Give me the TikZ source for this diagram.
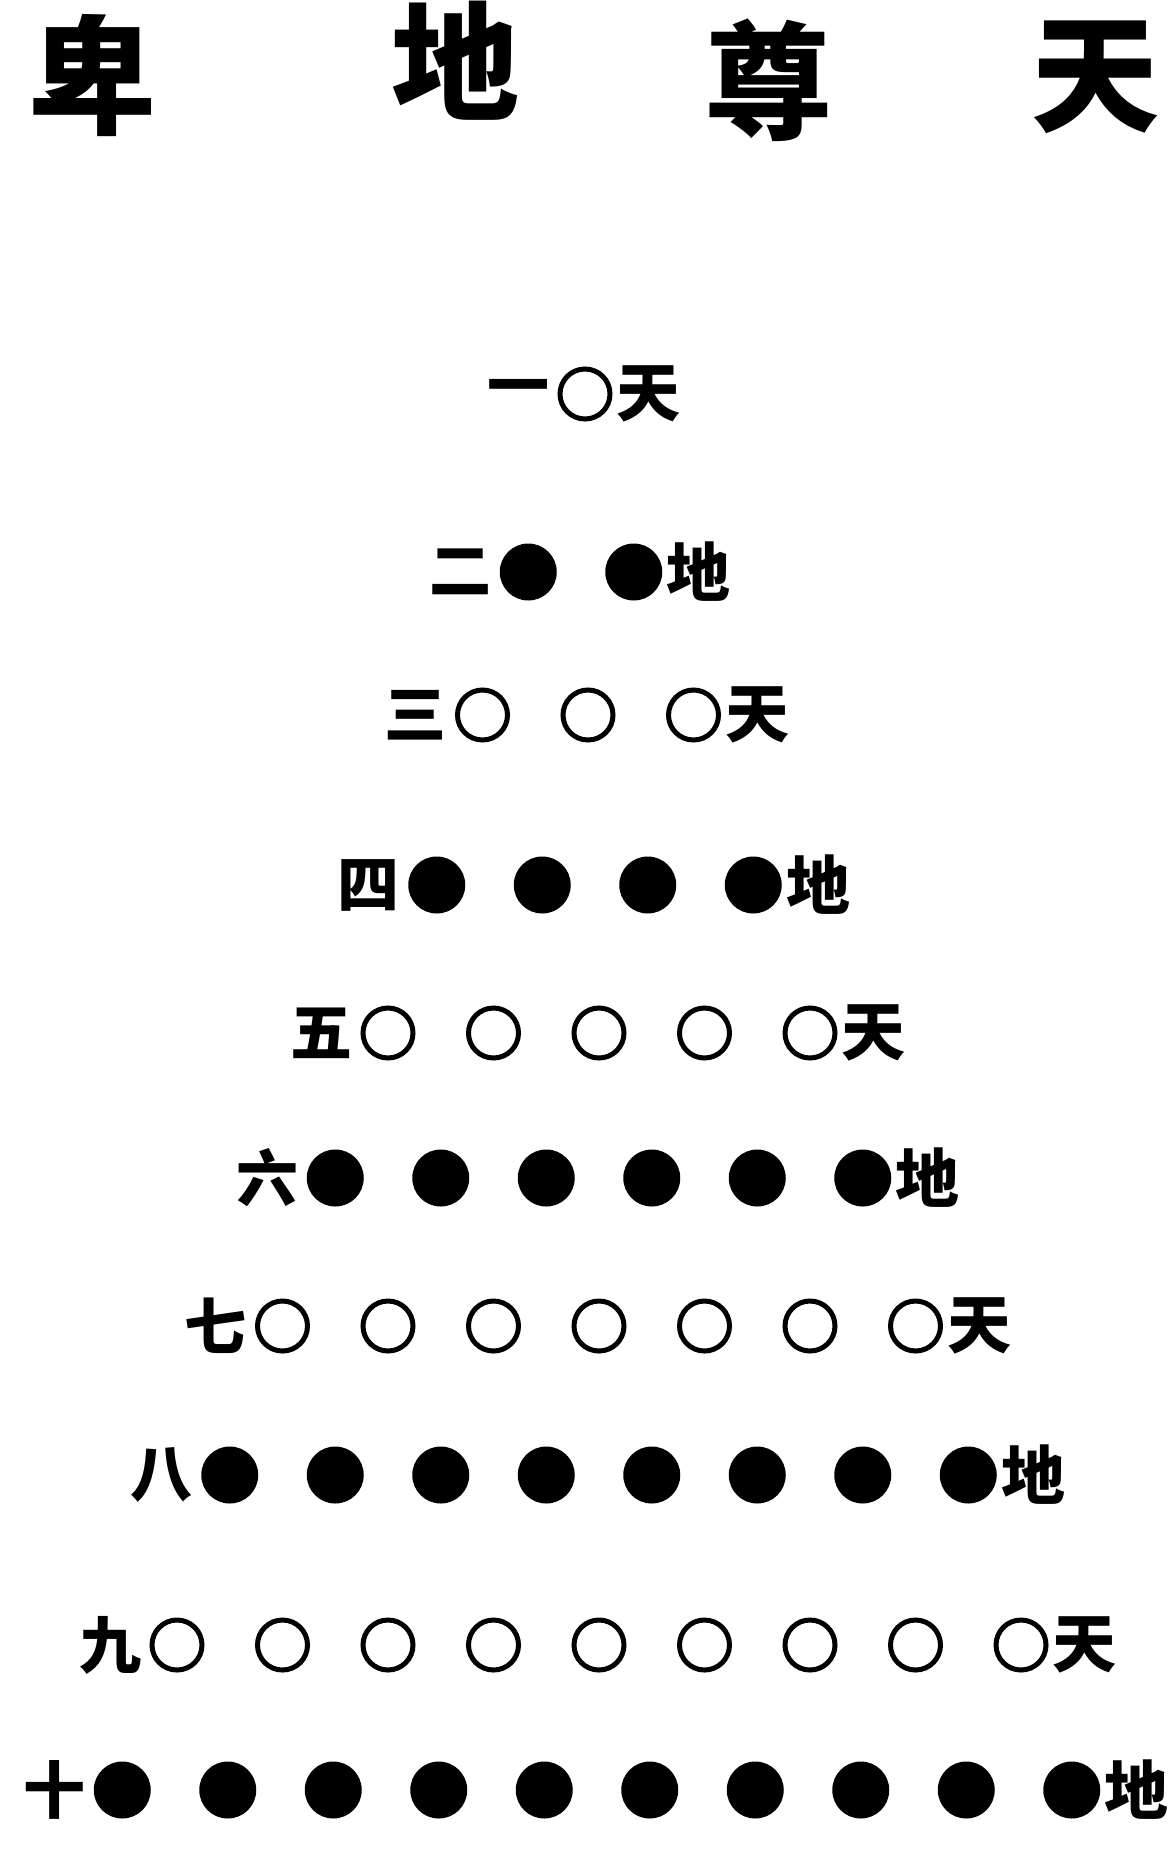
\documentclass[tikz,border=0pt]{standalone}
\usepackage{fontspec}
\usetikzlibrary{positioning}
\newfontfamily\cjk{Noto Sans CJK SC}
\tikzset{
  yang/.style={circle, draw=black, line width=5pt, minimum size=50pt, inner sep=0pt},
  yin/.style={circle, fill=black, minimum size=57pt, inner sep=0pt},
  num/.style={font=\cjk\bfseries\fontsize{62}{62}\selectfont, inner sep=0pt},
  tag/.style={font=\cjk\bfseries\fontsize{64}{64}\selectfont, inner sep=0pt},
  head/.style={font=\cjk\bfseries\fontsize{128}{128}\selectfont, inner sep=0pt},
}

\begin{document}
\begin{tikzpicture}[x=1pt, y=-1pt]
 \useasboundingbox (0,0) rectangle (1175,1851);
 % heading, read from the right
 \node[head] (h-1) at (92,76) {卑};
 \node[head] (h-2) at (455,61) {地};
 \node[head] (h-3) at (768,80) {尊};
 \node[head] (h-4) at (1095,77) {天};
 % rows: odd = open (heaven), even = filled (earth)
 \foreach \r/\cx/\cy/\nm in {1/585/394/一, 2/581/572/二, 3/588/715/三, 4/595/885/四, 5/599/1033/五,
   6/599/1178/六, 7/599/1326/七, 8/599/1475/八, 9/599/1645/九, 10/597/1790/十}{
   \ifodd\r \def\kind{yang}\def\side{天}\else \def\kind{yin}\def\side{地}\fi
   \foreach \k in {1,...,\r}
     \node[\kind] (d-\r-\k) at ({\cx+(\k-(\r+1)/2)*105.5},\cy) {};
   \node[num, left=8pt of d-\r-1] (n-\r) {\nm};
   \node[tag, right=4pt of d-\r-\r] (t-\r) {\side};
 }
\end{tikzpicture}
\end{document}
